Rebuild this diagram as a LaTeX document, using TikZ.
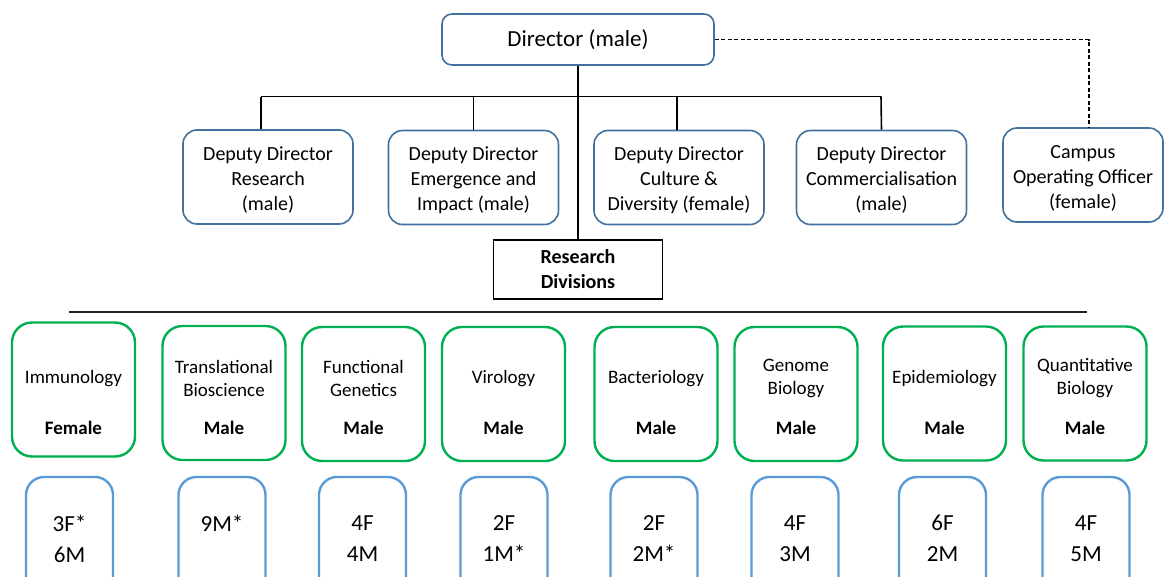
\documentclass[tikz,border=0pt]{standalone}
\usepackage{fontspec}
\setmainfont{Carlito}
\definecolor{topblue}{RGB}{65,113,156}
\definecolor{lowblue}{RGB}{91,155,213}
\definecolor{divgreen}{RGB}{0,176,80}
\tikzset{
  topbox/.style={draw=topblue, line width=1.6pt, rounded corners=14pt, fill=white,
    align=center, inner sep=0pt, minimum width=170pt, minimum height=94pt,
    font=\fontsize{20}{25}\selectfont},
  toptext/.style={align=center, inner sep=0pt, font=\fontsize{20}{25}\selectfont, yshift=-3pt},
  rdbox/.style={draw=black, line width=1.4pt, fill=white, align=center, inner sep=0pt,
    minimum width=169pt, minimum height=59pt, font=\fontsize{20}{25}\selectfont\bfseries},
  divbox/.style={draw=divgreen, line width=2.4pt, rounded corners=20pt,
    minimum width=123pt, minimum height=134pt, inner sep=0pt},
  divtitle/.style={align=center, inner sep=0pt, font=\fontsize{19}{23}\selectfont},
  divhead/.style={inner sep=0pt, font=\fontsize{19}{23}\selectfont\bfseries},
  cntbox/.style={draw=lowblue, line width=2.4pt, rounded corners=18pt, align=center,
    minimum width=87pt, minimum height=123pt, inner sep=0pt,
    font=\fontsize{23}{31}\selectfont},
  conn/.style={draw=black, line width=1.6pt},
  dashconn/.style={draw=black, line width=1.5pt, dash pattern=on 4pt off 2.5pt},
}
\begin{document}
\begin{tikzpicture}[x=1pt,y=-1pt]
\useasboundingbox (0,0) rectangle (1164,576);
\clip (0,0) rectangle (1164,576);
% top level
\node[topbox, minimum width=272pt, minimum height=51pt, rounded corners=10pt,
  font=\fontsize{23}{28}\selectfont] (dir) at (578,39.5) {Director (male)};
\node[topbox, label={[toptext]center:Deputy Director\\Research\\(male)}] (ddr) at (268,177) {};
\node[topbox, label={[toptext]center:Deputy Director\\Emergence and\\Impact (male)}] (dde) at (473.5,177.5) {};
\node[topbox, label={[toptext]center:Deputy Director\\Culture \&\\Diversity (female)}] (ddc) at (679,177.5) {};
\node[topbox, label={[toptext]center:Deputy Director\\Commercialisation\\(male)}] (ddm) at (881.5,177.5) {};
\node[topbox, minimum width=160pt, label={[toptext]center:Campus\\Operating Officer\\(female)}] (coo) at (1083,175) {};
\node[rdbox] (rd) at (578,269.5) {Research\\Divisions};
% bus
\coordinate (busL) at (261,96.5);
\coordinate (busR) at (881,96.5);
\coordinate (busE) at (473.5,96.5);
\coordinate (busC) at (677,96.5);
\coordinate (cooT) at (1089,128);
\draw[conn] (busL) -- (busR);
\draw[conn] (dir.south) -- (rd.north);
\draw[conn] (busL) -- (busL |- ddr.north);
\draw[conn] (busE) -- (dde.north);
\draw[conn] (busC) -- (busC |- ddc.north);
\draw[conn] (busR) -- (ddm.north);
\draw[dashconn] (dir.east) -| (cooT);
% divider
\coordinate (divL) at (69,312);
\coordinate (divR) at (1087,312);
\draw[line width=1.5pt, black!85] (divL) -- (divR);
% divisions
\foreach \n/\x/\y/\t/\h in {
  imm/73.5/389.5/Immunology/Female,
  tra/224/393/Translational\\Bioscience/Male,
  fun/363.5/394/Functional\\Genetics/Male,
  vir/503.5/394/Virology/Male,
  bac/656/394/Bacteriology/Male,
  gen/796/394/Genome\\Biology/Male,
  epi/944.5/393.5/Epidemiology/Male,
  qua/1085/393.5/Quantitative\\Biology/Male}{
  \node[divbox] (\n) at (\x,\y) {};
  \node[divtitle] (\n-t) at (\x,378.5) {\t};
  \node[divhead] (\n-h) at (\x,428) {\h};
}
% counts
\foreach \n/\x/\t in {
  c1/69.5/3F*\\6M,
  c2/222/9M*\\\phantom{9M},
  c3/362.5/4F\\4M,
  c4/504/2F\\1M*,
  c5/654/2F\\2M*,
  c6/795/4F\\3M,
  c7/942.5/6F\\2M,
  c8/1086/4F\\5M}{
  \node[cntbox] (\n) at (\x,538.5) {\t};
}
\end{tikzpicture}
\end{document}
